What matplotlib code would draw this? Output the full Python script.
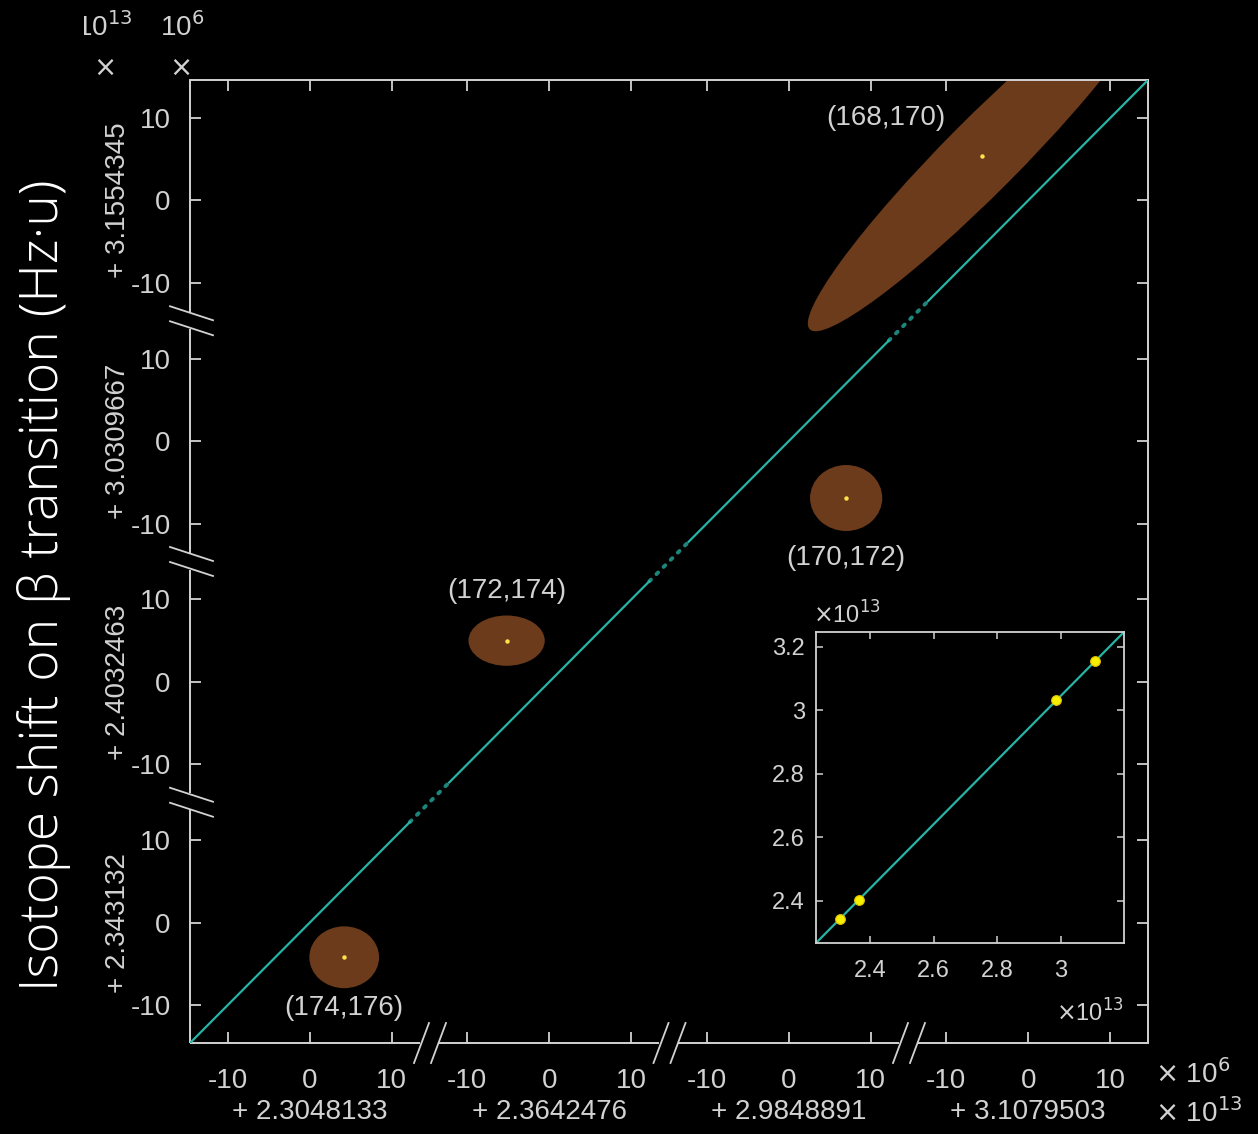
import numpy as np
import matplotlib
matplotlib.use("Agg")
import matplotlib.pyplot as plt
from matplotlib.patches import Ellipse, Rectangle

# isotope pairs and King-plot offsets (x10^13 Hz.u)
pairs = ['(174,176)', '(172,174)', '(170,172)', '(168,170)']
x_offsets = [2.3048133, 2.3642476, 2.9848891, 3.1079503]
y_offsets = [2.343132, 2.4032463, 3.0309667, 3.1554345]

# ellipse centres inside each broken-axis segment (x10^6)
ell_x = [4.2, -5.2, 7.0, -5.6]
ell_y = [-4.2, 5.0, -6.9, 5.4]
ell_w = [8.5, 9.3, 8.8, 59.5]
ell_h = [7.5, 6.1, 8.0, 9.0]
ell_ang = [0, 0, 0, 45]
lab_dx = [0, 0, 0, -11.8]
lab_dy = [-6.1, 6.0, -7.3, 4.6]

seg_ticks = [-10, 0, 10]

FG = '#d2d2d2'
TEAL = '#27b3a6'
BROWN = '#6c3b1b'
FONT = 'Liberation Sans'

H = 14.6          # half width of one segment
W = 2 * H
NSEG = 4

def vpos(k, v):
    return k * W + H + v

fig = plt.figure(figsize=(12.58, 11.34), dpi=100, facecolor='black')
FW, FH = 1258, 1134
ax = fig.add_axes([190 / FW, 1 - 1043 / FH, 958 / FW, 963 / FH])
ax.set_facecolor('black')
ax.set_xlim(0, NSEG * W)
ax.set_ylim(0, NSEG * W)

# diagonal: solid inside segments, dotted across the breaks
gap = 2.4
for k in range(NSEG):
    a = k * W + (gap if k > 0 else 0)
    b = (k + 1) * W - (gap if k < NSEG - 1 else 0)
    ax.plot([a, b], [a, b], color=TEAL, lw=1.6, zorder=3)
    if k > 0:
        ax.plot([k * W - gap, k * W + gap], [k * W - gap, k * W + gap],
                color=TEAL, lw=2.8, ls=(0, (0.6, 2.0)), alpha=0.75, zorder=3,
                dash_capstyle='round')

for i in range(len(pairs)):
    cx = vpos(i, ell_x[i])
    cy = vpos(i, ell_y[i])
    ax.add_patch(Ellipse((cx, cy), ell_w[i], ell_h[i], angle=ell_ang[i],
                         facecolor=BROWN, edgecolor='none', zorder=2))
    ax.plot(cx, cy, 'o', color='#ffe24a', ms=3.2, mec='none', zorder=4)
    ax.text(cx + lab_dx[i], cy + lab_dy[i], pairs[i], color=FG, fontsize=20,
            family=FONT, ha='center', va='center', zorder=5)

ticks = [vpos(k, t) for k in range(NSEG) for t in seg_ticks]
labels = [str(t) for k in range(NSEG) for t in seg_ticks]
ax.set_xticks(ticks)
ax.set_xticklabels(labels)
ax.set_yticks(ticks)
ax.set_yticklabels(labels)
ax.tick_params(direction='in', length=8, width=1.3, colors=FG, labelsize=20,
               top=True, right=True)
ax.tick_params(axis='x', pad=18)
ax.tick_params(axis='y', pad=14)
for lab in ax.get_xticklabels() + ax.get_yticklabels():
    lab.set_family(FONT)

for s in ['top', 'right']:
    ax.spines[s].set_color(FG)
    ax.spines[s].set_linewidth(1.4)
for s in ['bottom', 'left']:
    ax.spines[s].set_visible(False)

# broken spines with // marks (axes fraction, offsets in pixels)
AW, AH = 958.0, 963.0
edges = [k / NSEG for k in range(NSEG + 1)]
for k in range(NSEG):
    x0 = edges[k] + (9 / AW if k > 0 else 0)
    x1 = edges[k + 1] - (10 / AW if k < NSEG - 1 else 0)
    ax.plot([x0, x1], [0, 0], transform=ax.transAxes, color=FG, lw=1.4,
            clip_on=False, solid_capstyle='butt')
    y0 = edges[k] + (9 / AH if k > 0 else 0)
    y1 = edges[k + 1] - (8 / AH if k < NSEG - 1 else 0)
    ax.plot([0, 0], [y0, y1], transform=ax.transAxes, color=FG, lw=1.4,
            clip_on=False, solid_capstyle='butt')
for k in range(1, NSEG):
    e = edges[k]
    for off in (-8, 9):
        ax.plot([e + (off - 7.5) / AW, e + (off + 7.5) / AW],
                [-20 / AH, 20 / AH], transform=ax.transAxes, color=FG,
                lw=1.3, clip_on=False)
    for off in (-7.5, 7.5):
        ax.plot([-20 / AW, 23 / AW], [e + (off + 7) / AH, e + (off - 7) / AH],
                transform=ax.transAxes, color=FG, lw=1.3, clip_on=False)

# segment offsets
for k in range(NSEG):
    xc = (vpos(k, 0) / (NSEG * W))
    ax.text(xc, -69 / AH, '+ %.7f' % x_offsets[k], transform=ax.transAxes,
            color=FG, fontsize=20, family=FONT, ha='center', va='center')
    ax.text(-72 / AW, xc, '+ ' + ('%.7f' % y_offsets[k]).rstrip('0'),
            transform=ax.transAxes, color=FG, fontsize=20, family=FONT,
            ha='center', va='center', rotation=90)

# multiplier texts
fig.text(1155 / FW, 1 - 1074 / FH, r'$\times$ 10$^{6}$', color=FG, fontsize=20,
         family=FONT, ha='left', va='center')
fig.text(1155 / FW, 1 - 1113 / FH, r'$\times$ 10$^{13}$', color=FG, fontsize=20,
         family=FONT, ha='left', va='center')
fig.text(160 / FW, 1 - 27 / FH, r'10$^{6}$', color=FG, fontsize=20,
         family=FONT, ha='left', va='center')
fig.text(180 / FW, 1 - 69 / FH, r'$\times$', color=FG, fontsize=20,
         family=FONT, ha='center', va='center')
fig.text(76 / FW, 1 - 27 / FH, r'10$^{13}$', color=FG, fontsize=20,
         family=FONT, ha='left', va='center', zorder=5)
fig.text(104 / FW, 1 - 69 / FH, r'$\times$', color=FG, fontsize=20,
         family=FONT, ha='center', va='center')
fig.patches.append(Rectangle((0, 1 - 50 / FH), 84 / FW, 50 / FH,
                             transform=fig.transFigure, facecolor='black',
                             edgecolor='none', zorder=10))

fig.text(44 / FW, 1 - 585 / FH, 'Isotope shift on β transition (Hz·u)',
         color='white', fontsize=38.5, family='Open Sans', fontweight='light',
         rotation=90, ha='center', va='center')

# inset: full King plot
ins = fig.add_axes([816 / FW, 1 - 943 / FH, 308 / FW, 311 / FH])
ins.set_facecolor('black')
slope, icpt = np.polyfit(x_offsets, y_offsets, 1)
xl = (2.23, 3.198)
ins.set_xlim(xl)
ins.set_ylim(slope * xl[0] + icpt, slope * xl[1] + icpt)
ins.plot(xl, [slope * xl[0] + icpt, slope * xl[1] + icpt], color=TEAL, lw=1.6)
ins.plot(x_offsets, y_offsets, 'o', color='#f4f000', mec='#e0c000', ms=7, mew=0.8)
ins.set_xticks([2.4, 2.6, 2.8, 3.0])
ins.set_xticklabels(['2.4', '2.6', '2.8', '3'])
ins.set_yticks([2.4, 2.6, 2.8, 3.0, 3.2])
ins.set_yticklabels(['2.4', '2.6', '2.8', '3', '3.2'])
ins.tick_params(direction='in', length=5, width=1.1, colors=FG, labelsize=17,
                top=True, right=True, pad=8)
ins.tick_params(axis='x', pad=12)
for lab in ins.get_xticklabels() + ins.get_yticklabels():
    lab.set_family(FONT)
for s in ins.spines.values():
    s.set_color(FG)
    s.set_linewidth(1.3)
ins.text(-0.01, 1.01, r'$\times$10$^{13}$', transform=ins.transAxes, color=FG,
         fontsize=17, family=FONT, ha='left', va='bottom')
ins.text(1.0, -0.18, r'$\times$10$^{13}$', transform=ins.transAxes, color=FG,
         fontsize=17, family=FONT, ha='right', va='top')

fig.savefig('out.png', dpi=100, facecolor='black')
